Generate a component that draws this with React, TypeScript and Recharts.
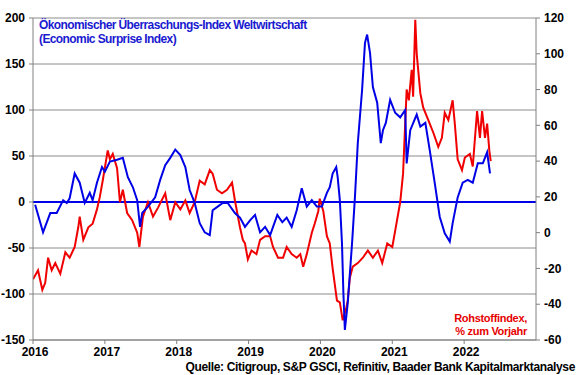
import React from "react";
import {
  LineChart,
  Line,
  CartesianGrid,
  XAxis,
  YAxis,
  ReferenceLine,
} from "recharts";

// Economic Surprise Index (left axis)
const surpriseDates = [
  2016.03, 2016.14, 2016.24, 2016.33, 2016.42, 2016.47, 2016.51, 2016.58, 2016.65, 2016.72,
  2016.79, 2016.83, 2016.89, 2016.96, 2017.0, 2017.07, 2017.17, 2017.25, 2017.32, 2017.39,
  2017.45, 2017.49, 2017.52, 2017.6, 2017.7, 2017.77, 2017.84, 2017.91, 2017.98, 2018.05,
  2018.12, 2018.18, 2018.25, 2018.32, 2018.39, 2018.46, 2018.5, 2018.57, 2018.64, 2018.71,
  2018.81, 2018.88, 2018.95, 2019.02, 2019.09, 2019.16, 2019.23, 2019.3, 2019.4, 2019.47,
  2019.53, 2019.6, 2019.67, 2019.74, 2019.81, 2019.88, 2019.95, 2020.02, 2020.09, 2020.13,
  2020.17, 2020.22, 2020.24, 2020.27, 2020.3, 2020.32, 2020.34, 2020.38, 2020.44, 2020.48,
  2020.52, 2020.58, 2020.62, 2020.65, 2020.69, 2020.73, 2020.79, 2020.84, 2020.87, 2020.91,
  2020.97, 2021.04, 2021.11, 2021.18, 2021.2, 2021.25, 2021.34, 2021.39, 2021.46, 2021.52,
  2021.59, 2021.66, 2021.73, 2021.8, 2021.84, 2021.91, 2021.98, 2022.05, 2022.12, 2022.19,
  2022.26, 2022.32, 2022.36,
];
const surpriseValues = [
  -3, -33, -12, -12, 2, -1, 4, 31, 21, -1,
  10, 2, 21, 38, 33, 44, 46, 48, 27, 16,
  2, -27, -12, -5, 5, 24, 40, 48, 57, 51,
  38, 13, -1, -23, -33, -36, -9, -5, -1, -1,
  -12, -17, -27, -20, -14, -33, -27, -36, -14, -22,
  -17, -27, -9, 15, -5, 2, -5, -5, 10, 16,
  31, 38, 27, 2, -45, -100, -139, -110, -45, 5,
  64, 122, 173, 182, 162, 125, 108, 64, 78, 86,
  111, 97, 92, 100, 42, 78, 95, 82, 86, 57,
  21, -16, -34, -43, -23, 5, 21, 24, 21, 42,
  42, 54, 31,
];

// Rohstoffindex, % zum Vorjahr (right axis)
const commodityDates = [
  2016.0, 2016.07, 2016.13, 2016.17, 2016.21, 2016.26, 2016.31, 2016.38, 2016.45, 2016.51,
  2016.58, 2016.63, 2016.65, 2016.7, 2016.77, 2016.83, 2016.89, 2016.93, 2016.97, 2017.04,
  2017.07, 2017.11, 2017.17, 2017.21, 2017.25, 2017.31, 2017.38, 2017.45, 2017.48, 2017.53,
  2017.6, 2017.67, 2017.74, 2017.84, 2017.91, 2017.98, 2018.05, 2018.12, 2018.18, 2018.25,
  2018.32, 2018.39, 2018.46, 2018.5, 2018.56, 2018.63, 2018.7, 2018.77, 2018.81, 2018.88,
  2018.92, 2018.95, 2018.99, 2019.04, 2019.11, 2019.16, 2019.23, 2019.3, 2019.34, 2019.41,
  2019.48, 2019.53, 2019.6, 2019.67, 2019.72, 2019.76, 2019.81, 2019.88, 2019.92, 2019.97,
  2019.99, 2020.04, 2020.09, 2020.13, 2020.17, 2020.23, 2020.27, 2020.31, 2020.36, 2020.38,
  2020.41, 2020.45, 2020.52, 2020.59, 2020.66, 2020.73, 2020.8, 2020.86, 2020.93, 2021.0,
  2021.04, 2021.11, 2021.15, 2021.2, 2021.23, 2021.27, 2021.29, 2021.32, 2021.34, 2021.39,
  2021.43, 2021.5, 2021.57, 2021.64, 2021.69, 2021.73, 2021.78, 2021.84, 2021.87, 2021.91,
  2021.97, 2022.01, 2022.08, 2022.12, 2022.18, 2022.22, 2022.25, 2022.29, 2022.32, 2022.35,
  2022.37,
];
const commodityValues = [
  -26, -21, -32, -28, -14, -21, -17, -23, -11, -14,
  -8, 3, 9, -4, 3, 5, 13, 20, 29, 46,
  41, 44, 36, 17, 24, 11, 7, 0, -8, 9,
  17, 9, 14, 22, 7, 17, 13, 18, 11, 17,
  29, 27, 35, 33, 24, 22, 24, 28, 18, 3,
  -4, -6, -15, -10, -12, -4, -2, -2, -8, -14,
  -14, -8, -12, -14, -12, -19, -12, 0, 5, 12,
  19, 12, -2, -6, -20, -38, -39, -49, -42, -38,
  -25, -19, -17, -14, -10, -14, -10, -17, -6, -8,
  1, 17, 33, 80, 74, 91, 76, 119, 100, 78,
  70, 63, 56, 48, 53, 67, 63, 74, 61, 41,
  35, 42, 44, 37, 68, 53, 68, 53, 61, 46,
  40,
];

const yearTicks = [2016, 2017, 2018, 2019, 2020, 2021, 2022];
const leftTicks = [-150, -100, -50, 0, 50, 100, 150, 200];
const rightTicks = [-60, -40, -20, 0, 20, 40, 60, 80, 100, 120];

const surpriseData = surpriseDates.map((t, i) => ({ t, v: surpriseValues[i] }));
const commodityData = commodityDates.map((t, i) => ({ t, v: commodityValues[i] }));

const BLUE = "#0000e6";
const RED = "#f00000";
const font = "'Liberation Sans', Arial, sans-serif";
const tickStyle = { fontFamily: font, fontSize: 12, fontWeight: 700, fill: "#000" };

export default function App() {
  return (
    <div style={{ position: "absolute", left: 0, top: 0, width: 580, height: 375, background: "#fff" }}>
      <LineChart
        width={580}
        height={375}
        margin={{ top: 18, right: 0, bottom: 15, left: 0 }}
      >
        <CartesianGrid
          yAxisId="l"
          vertical={false}
          stroke="#8c8c8c"
          strokeWidth={1}
        />
        <XAxis
          type="number"
          dataKey="t"
          domain={[2016, 2023]}
          ticks={yearTicks}
          height={20}
          tickSize={4}
          tickMargin={3}
          stroke="#808080"
          tick={{ ...tickStyle, dx: 2 }}
          allowDataOverflow
        />
        <YAxis
          yAxisId="l"
          domain={[-150, 200]}
          ticks={leftTicks}
          width={33}
          tickSize={4}
          tickMargin={4}
          stroke="#808080"
          tick={tickStyle}
          interval={0}
        />
        <YAxis
          yAxisId="r"
          orientation="right"
          domain={[-60, 120]}
          ticks={rightTicks}
          width={44}
          tickSize={4}
          tickMargin={4}
          stroke="#808080"
          tick={{ ...tickStyle, textAnchor: "start" }}
          interval={0}
        />
        <ReferenceLine yAxisId="l" y={0} stroke={BLUE} strokeWidth={2} />
        <Line
          yAxisId="r"
          data={commodityData}
          dataKey="v"
          type="linear"
          stroke={RED}
          strokeWidth={2}
          dot={false}
          isAnimationActive={false}
        />
        <Line
          yAxisId="l"
          data={surpriseData}
          dataKey="v"
          type="linear"
          stroke={BLUE}
          strokeWidth={2}
          dot={false}
          isAnimationActive={false}
        />
      </LineChart>
      <div
        style={{
          position: "absolute",
          left: 39,
          top: 18,
          color: "#1a1ad0",
          fontFamily: font,
          fontWeight: 700,
          fontSize: 12,
          letterSpacing: -0.6,
          lineHeight: "14px",
          whiteSpace: "nowrap",
        }}
      >
        Ökonomischer Überraschungs-Index Weltwirtschaft
        <br />
        (Economic Surprise Index)
      </div>
      <div
        style={{
          position: "absolute",
          right: 53,
          top: 312,
          color: "#e60000",
          fontFamily: font,
          fontWeight: 700,
          fontSize: 11,
          letterSpacing: -0.3,
          lineHeight: "13px",
          textAlign: "right",
          whiteSpace: "nowrap",
        }}
      >
        Rohstoffindex,
        <br />% zum Vorjahr
      </div>
      <div
        style={{
          position: "absolute",
          right: 5,
          top: 361,
          color: "#000",
          fontFamily: font,
          fontWeight: 700,
          fontSize: 12,
          letterSpacing: -0.35,
          lineHeight: "13px",
          whiteSpace: "nowrap",
        }}
      >
        Quelle: Citigroup, S&amp;P GSCI, Refinitiv, Baader Bank Kapitalmarktanalyse
      </div>
    </div>
  );
}
